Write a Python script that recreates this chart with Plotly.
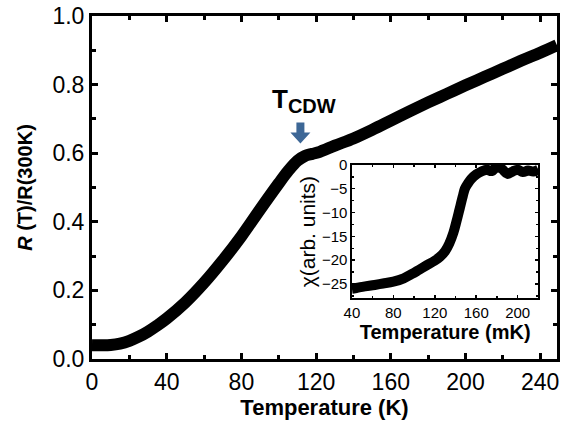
import plotly.graph_objects as go

# main panel: normalised resistance vs temperature
temp_k = [0, 5, 10, 15, 20, 25, 30, 35, 40, 50, 60, 70, 80, 90, 100, 105, 110,
          114, 118, 122, 130, 140, 150, 160, 170, 180, 190, 200, 210, 220, 230,
          240, 249]
r_ratio = [0.040, 0.040, 0.041, 0.045, 0.053, 0.065, 0.080, 0.098, 0.118, 0.165,
           0.222, 0.287, 0.358, 0.436, 0.512, 0.548, 0.578, 0.592, 0.598, 0.604,
           0.622, 0.643, 0.668, 0.695, 0.722, 0.748, 0.773, 0.798, 0.822, 0.846,
           0.870, 0.893, 0.915]

# inset: susceptibility vs temperature (mK)
temp_mk = [40, 43, 50, 62, 70, 80, 90, 98, 105, 112, 120, 125, 130, 134, 138,
           141, 144, 147, 149, 152, 155, 160, 165, 170, 175, 180, 185, 190, 195,
           200, 205, 210, 215, 220]
chi = [-26.0, -25.9, -25.6, -25.2, -24.9, -24.5, -23.8, -22.9, -22.0, -21.1,
       -20.1, -19.3, -18.1, -16.5, -14.2, -11.8, -9.2, -6.6, -5.0, -3.9, -3.0,
       -2.0, -1.4, -1.0, -1.3, -0.4, -0.9, -1.9, -1.4, -1.0, -1.5, -1.2, -1.4,
       -1.0]

FONT = "Liberation Sans, Arial, sans-serif"

fig = go.Figure()
fig.add_trace(go.Scatter(x=temp_k, y=r_ratio, mode='lines',
                         line=dict(color='black', width=12, shape='spline'),
                         xaxis='x', yaxis='y', hoverinfo='skip'))
fig.add_trace(go.Scatter(x=temp_mk, y=chi, mode='lines',
                         line=dict(color='black', width=10, shape='spline'),
                         xaxis='x2', yaxis='y2', hoverinfo='skip'))

main_ax = dict(showline=True, linewidth=3, linecolor='black', mirror='allticks',
               ticks='inside', ticklen=6, tickwidth=3, tickcolor='black',
               showgrid=False, zeroline=False, automargin=False,
               tickfont=dict(size=23, color='black'))
inset_ax = dict(showline=True, linewidth=1.5, linecolor='black', mirror='allticks',
                ticks='inside', ticklen=3, tickwidth=1.5, tickcolor='black',
                showgrid=False, zeroline=False, automargin=False,
                tickfont=dict(size=15, color='black'))

fig.update_layout(
    width=567, height=425,
    margin=dict(l=92, r=10, t=16, b=66),
    paper_bgcolor='white', plot_bgcolor='white',
    showlegend=False,
    font=dict(family=FONT, color='black'),
    xaxis=dict(main_ax, range=[0, 249], tick0=0, dtick=40, domain=[0, 1],
               minor=dict(dtick=20, ticks='inside', ticklen=4, tickwidth=3,
                          tickcolor='black'),
               title=dict(text='<b>Temperature (K)</b>', font=dict(size=22),
                          standoff=0)),
    yaxis=dict(main_ax, range=[0, 1], tick0=0, dtick=0.2, tickformat='.1f',
               domain=[0, 1],
               minor=dict(dtick=0.1, ticks='inside', ticklen=4, tickwidth=3,
                          tickcolor='black'),
               title=dict(text='<b><i>R</i> (T)/R(300K)</b>', font=dict(size=20))),
    xaxis2=dict(inset_ax, range=[40, 220], tick0=40, dtick=40,
                domain=[0.559, 0.960], anchor='y2',
                minor=dict(dtick=20, ticks='inside', ticklen=2, tickwidth=1.5,
                           tickcolor='black'),
                title=dict(text='<b>Temperature (mK)</b>', font=dict(size=20),
                           standoff=0)),
    yaxis2=dict(inset_ax, range=[-28, 0], tick0=0, dtick=5,
                domain=[0.177, 0.566], anchor='x2',
                minor=dict(dtick=2.5, ticks='inside', ticklen=2, tickwidth=1.5,
                           tickcolor='black'),
                title=dict(text='χ(arb. units)', font=dict(size=21), standoff=0)),
)

# T_CDW label and arrow
fig.add_annotation(x=113.5, y=0.70, xref='x', yref='y', showarrow=False,
                   text="<b>T<sub><span style='font-size:20px'>CDW</span></sub></b>",
                   font=dict(size=26, color='black'),
                   xanchor='center', yanchor='bottom')
fig.add_shape(type='path', xref='x', yref='y', xsizemode='pixel', ysizemode='pixel',
              xanchor=111.6, yanchor=0.628,
              path='M 0,0 L -10,11 L -4,11 L -4,21 L 4,21 L 4,11 L 10,11 Z',
              fillcolor='#3d6796', line=dict(width=0))

# page has a default 8px body margin; drop it so the figure fills the window
page_js = "document.body.style.margin = '0';"

fig.write_html("out.html", post_script=page_js,
               config={'displayModeBar': False, 'staticPlot': True})
